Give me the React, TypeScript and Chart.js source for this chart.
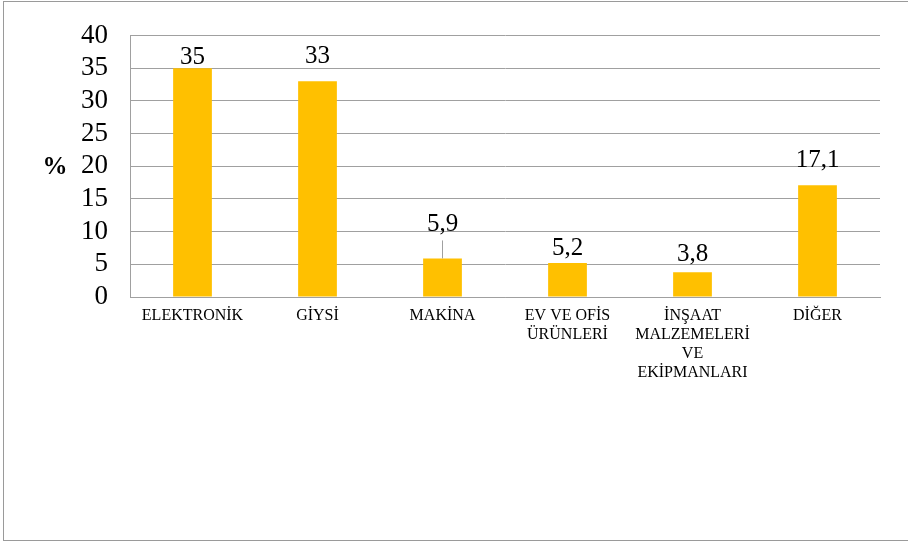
import React, { useEffect, useRef } from "react";
import { Chart, registerables } from "chart.js";

Chart.register(...registerables);

const categories: string[][] = [
  ["ELEKTRONİK"],
  ["GİYSİ"],
  ["MAKİNA"],
  ["EV VE OFİS", "ÜRÜNLERİ"],
  ["İNŞAAT", "MALZEMELERİ", "VE", "EKİPMANLARI"],
  ["DİĞER"],
];
const values: number[] = [35, 33, 5.9, 5.2, 3.8, 17.1];
const valueLabels: string[] = ["35", "33", "5,9", "5,2", "3,8", "17,1"];
const yTitle = "%";

const FONT = "'Liberation Serif', 'Times New Roman', serif";

export default function App() {
  const ref = useRef<HTMLCanvasElement | null>(null);

  useEffect(() => {
    document.body.style.margin = "0";
    const canvas = ref.current;
    if (!canvas) return;

    const labelPlugin = {
      id: "valueLabels",
      afterDatasetsDraw(chart: any) {
        const ctx = chart.ctx;
        const meta = chart.getDatasetMeta(0);
        const gaps = [4, 18, 27, 8, 11, 18];
        ctx.save();
        ctx.font = `25px ${FONT}`;
        ctx.fillStyle = "#000";
        ctx.textAlign = "center";
        ctx.textBaseline = "alphabetic";
        meta.data.forEach((bar: any, i: number) => {
          const g = gaps[i];
          ctx.fillText(valueLabels[i], bar.x, bar.y - g);
          if (g > 20) {
            ctx.strokeStyle = "#a0a0a0";
            ctx.lineWidth = 1;
            ctx.beginPath();
            ctx.moveTo(Math.round(bar.x) - 0.5, bar.y - g + 9);
            ctx.lineTo(Math.round(bar.x) - 0.5, bar.y);
            ctx.stroke();
          }
        });
        const area = chart.chartArea;
        ctx.font = `bold 25px ${FONT}`;
        ctx.textBaseline = "middle";
        ctx.fillText(yTitle, 55, (area.top + area.bottom) / 2 + 1);
        ctx.restore();
      },
    };

    const chart = new Chart(canvas, {
      type: "bar",
      data: {
        labels: categories,
        datasets: [
          {
            data: values,
            backgroundColor: "#FFC000",
            borderWidth: 0,
            barPercentage: 0.31,
            categoryPercentage: 1,
          },
        ],
      },
      options: {
        responsive: false,
        animation: false,
        layout: { padding: { left: 0, top: 32, right: 28, bottom: 0 } },
        plugins: {
          legend: { display: false },
          tooltip: { enabled: false },
          title: { display: false },
        },
        scales: {
          x: {
            grid: { display: false, drawTicks: false },
            border: { display: true, color: "#a0a0a0", width: 1 },
            ticks: {
              color: "#000",
              padding: 9,
              maxRotation: 0,
              autoSkip: false,
              font: { family: FONT, size: 16, lineHeight: 1.2 },
            },
            afterFit: (s: any) => {
              s.height = 246;
            },
          },
          y: {
            min: 0,
            max: 40,
            ticks: {
              stepSize: 5,
              autoSkip: false,
              color: "#000",
              padding: 22,
              font: { family: FONT, size: 27, lineHeight: 1 },
            },
            grid: { color: "#a0a0a0", lineWidth: 1, drawTicks: false },
            border: { display: true, color: "#a0a0a0", width: 1 },
            afterFit: (s: any) => {
              s.width = 130;
            },
          },
        },
      },
      plugins: [labelPlugin],
    });

    return () => chart.destroy();
  }, []);

  return (
    <div style={{ position: "relative", width: 908, height: 543, overflow: "hidden", background: "#fff" }}>
      <canvas ref={ref} width={908} height={543} style={{ position: "absolute", left: 0, top: 0 }} />
      <div
        style={{
          position: "absolute",
          left: 3,
          top: 1,
          width: 905,
          height: 538,
          borderLeft: "1px solid #9a9a9a",
          borderTop: "1px solid #9a9a9a",
          borderBottom: "1px solid #9a9a9a",
          pointerEvents: "none",
        }}
      />
    </div>
  );
}
